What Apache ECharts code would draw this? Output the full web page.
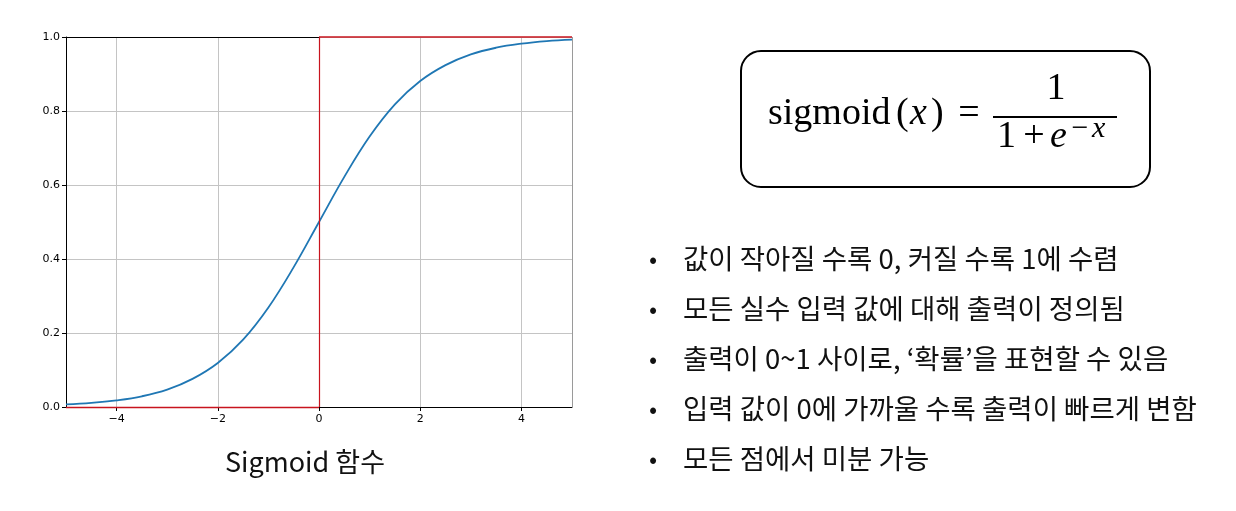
<!DOCTYPE html>
<html>
<head>
<meta charset="utf-8">
<script src="https://cdn.jsdelivr.net/npm/echarts@6/dist/echarts.min.js"></script>
<style>
html,body{margin:0;padding:0;background:#fff;}
#chart{width:1236px;height:511px;}
</style>
</head>
<body>
<div id="chart"></div>
<script>
// x sample positions and sigmoid values
var xValues = [-5, -4.5, -4, -3.5, -3, -2.5, -2, -1.5, -1, -0.5, 0, 0.5, 1, 1.5, 2, 2.5, 3, 3.5, 4, 4.5, 5];
var yValues = [0.007, 0.011, 0.018, 0.029, 0.047, 0.076, 0.119, 0.182, 0.269, 0.378, 0.5, 0.622, 0.731, 0.818, 0.881, 0.924, 0.953, 0.971, 0.982, 0.989, 0.993];
var xTickValues = [-4, -2, 0, 2, 4];
var yTickValues = [0, 0.2, 0.4, 0.6, 0.8, 1.0];
var chartCaption = 'Sigmoid 함수';
var bullets = [
  '값이 작아질 수록 0, 커질 수록 1에 수렴',
  '모든 실수 입력 값에 대해 출력이 정의됨',
  '출력이 0~1 사이로, ‘확률’을 표현할 수 있음',
  '입력 값이 0에 가까울 수록 출력이 빠르게 변함',
  '모든 점에서 미분 가능'
];

var chart = echarts.init(document.getElementById('chart'), null, {renderer: 'canvas'});
var pts = xValues.map(function (x, i) { return [x, yValues[i]]; });
var red = '#c8141e';
var cjk = '"Noto Sans CJK KR", "Noto Sans", sans-serif';
var serif = '"Liberation Serif", serif';

function txt(x, y, s, font, align) {
  return {type: 'text', x: x, y: y, silent: true,
    style: {text: s, font: font, fill: '#000', textAlign: align || 'left', textVerticalAlign: 'middle'}};
}

var graphics = [];
graphics.push({
  type: 'text', x: 305, y: 462, silent: true,
  style: {text: chartCaption, font: '400 27px ' + cjk, fill: '#111', textAlign: 'center', textVerticalAlign: 'middle'}
});
bullets.forEach(function (b, i) {
  var y = 259 + i * 50;
  graphics.push({type: 'text', x: 653, y: y, silent: true,
    style: {text: '•', font: '400 24px ' + cjk, fill: '#111', textAlign: 'center', textVerticalAlign: 'middle'}});
  graphics.push({type: 'text', x: 683, y: y, silent: true,
    style: {text: b, font: '400 27.5px ' + cjk, fill: '#111', textAlign: 'left', textVerticalAlign: 'middle'}});
});
// formula box
graphics.push({type: 'rect', silent: true, shape: {x: 741, y: 51, width: 409, height: 136, r: 20},
  style: {fill: '#fff', stroke: '#000', lineWidth: 2}});
var F = '400 38px ' + serif, FI = 'italic 400 38px ' + serif;
graphics.push(txt(768, 114, 'sigmoid', F));
graphics.push(txt(896, 114, '(', F));
graphics.push(txt(910, 114, 'x', FI));
graphics.push(txt(931, 114, ')', F));
graphics.push(txt(969, 114, '=', F, 'center'));
graphics.push(txt(1056, 89, '1', F, 'center'));
graphics.push({type: 'line', silent: true, shape: {x1: 993, y1: 117, x2: 1117, y2: 117}, style: {stroke: '#000', lineWidth: 2.2}});
graphics.push(txt(997, 137, '1', F));
graphics.push(txt(1034, 137, '+', F, 'center'));
graphics.push(txt(1050, 137, 'e', FI));
graphics.push(txt(1080, 129, '\u2212', '400 30px ' + serif, 'center'));
graphics.push(txt(1092, 129, 'x', 'italic 400 30px ' + serif));

var option = {
  animation: false,
  backgroundColor: '#fff',
  grid: {left: 66, top: 37, width: 506, height: 370, containLabel: false},
  xAxis: {
    type: 'value', min: -5, max: 5,
    axisLine: {show: true, onZero: false, lineStyle: {color: '#000', width: 1}},
    axisTick: {show: true, inside: false, length: 4, lineStyle: {color: '#000'}, customValues: xTickValues},
    axisLabel: {customValues: xTickValues, margin: 7, fontFamily: 'DejaVu Sans', fontSize: 11, color: '#000',
      formatter: function (v) { return v < 0 ? '\u2212' + Math.abs(v) : String(v); }},
    splitLine: {show: true, lineStyle: {color: '#c4c4c4', width: 1}}
  },
  yAxis: {
    type: 'value', min: 0, max: 1, interval: 0.2,
    axisLine: {show: true, onZero: false, lineStyle: {color: '#000', width: 1}},
    axisTick: {show: true, length: 4, lineStyle: {color: '#000'}},
    axisLabel: {margin: 6, fontFamily: 'DejaVu Sans', fontSize: 11, color: '#000',
      formatter: function (v) { return v.toFixed(1); }},
    splitLine: {show: true, lineStyle: {color: '#c4c4c4', width: 1}}
  },
  series: [
    {
      type: 'line', data: pts, smooth: 0.4, showSymbol: false, symbol: 'none',
      lineStyle: {color: '#1f77b4', width: 1.8}, z: 3,
      markLine: {
        silent: true, symbol: 'none', animation: false, label: {show: false},
        data: [
          [{coord: [-5, 1], lineStyle: {color: '#000', width: 1.2, type: 'solid'}}, {coord: [0, 1]}],
          [{coord: [5, 0], lineStyle: {color: '#9a9a9a', width: 1, type: 'solid'}}, {coord: [5, 1]}],
          [{coord: [0, 0], lineStyle: {color: red, width: 1.2, type: 'solid'}}, {coord: [0, 1]}],
          [{coord: [-5, 0], lineStyle: {color: red, width: 1.4, type: 'solid'}}, {coord: [0, 0]}],
          [{coord: [0, 1], lineStyle: {color: red, width: 1.6, type: 'solid'}}, {coord: [5, 1]}]
        ]
      }
    }
  ],
  graphic: graphics
};
chart.setOption(option);
</script>
</body>
</html>
